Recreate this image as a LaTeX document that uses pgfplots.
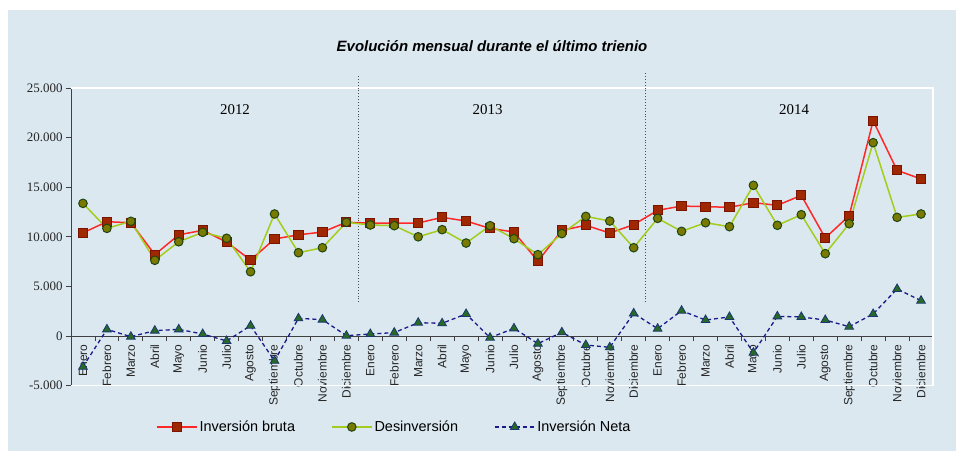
\documentclass[border=0pt]{standalone}
\usepackage{pgfplots}
\pgfplotsset{compat=1.18}
\usepackage{fontspec}
\setmainfont{Liberation Serif}
\setsansfont{Liberation Sans}
\definecolor{bg}{RGB}{219,232,240}
\definecolor{brutaline}{RGB}{255,40,40}
\definecolor{brutafill}{RGB}{160,40,0}
\definecolor{brutadraw}{RGB}{120,20,0}
\definecolor{desline}{RGB}{164,204,28}
\definecolor{desfill}{RGB}{122,122,0}
\definecolor{desdraw}{RGB}{30,70,20}
\definecolor{netaline}{RGB}{26,26,140}
\definecolor{netafill}{RGB}{40,105,40}
\definecolor{netadraw}{RGB}{25,55,110}
\pgfplotstableread{
x bruta desinv neta
0 10400 13370 -3100
1 11520 10850 670
2 11420 11560 -70
3 8200 7630 540
4 10200 9500 670
5 10650 10450 200
6 9470 9850 -500
7 7660 6480 1040
8 9780 12300 -2500
9 10200 8400 1780
10 10480 8900 1650
11 11460 11460 30
12 11390 11190 200
13 11390 11120 340
14 11390 10000 1340
15 11960 10720 1280
16 11590 9370 2220
17 10850 11120 -170
18 10480 9810 770
19 7530 8200 -770
20 10650 10320 370
21 11160 12060 -910
22 10380 11590 -1140
23 11220 8900 2280
24 12670 11860 740
25 13100 10550 2550
26 13040 11420 1610
27 12970 11020 1920
28 13440 15190 -1680
29 13170 11160 1980
30 14180 12230 1920
31 9880 8300 1610
32 12130 11320 940
33 21700 19490 2220
34 16700 11960 4740
35 15830 12300 3560
}\datatable
\begin{document}
\begin{tikzpicture}
\fill[white] (-71bp,-65.4bp) rectangle (885bp,385.6bp);
\fill[bg] (-63bp,-65.4bp) rectangle (885bp,375.6bp);
\begin{axis}[
  scale only axis, width=862bp, height=297.6bp,
  xmin=-0.5, xmax=35.5, ymin=-5000, ymax=25000,
  clip=false,
  axis x line*=middle, axis y line*=left,
  axis line style={black!75, line width=0.8pt},
  tick style={black!75, line width=0.8pt},
  tick align=outside,
  xtick={0,...,35},
  major x tick style={draw=none},
  minor xtick={-0.5,0.5,...,35.5},
  minor x tick style={draw=black!75, line width=0.8pt},
  minor tick length=5bp,
  major tick length=5bp,
  xticklabels={Enero,Febrero,Marzo,Abril,Mayo,Junio,Julio,Agosto,Septiembre,Octubre,Noviembre,Diciembre,
               Enero,Febrero,Marzo,Abril,Mayo,Junio,Julio,Agosto,Septiembre,Octubre,Noviembre,Diciembre,
               Enero,Febrero,Marzo,Abril,Mayo,Junio,Julio,Agosto,Septiembre,Octubre,Noviembre,Diciembre},
  xticklabel style={font=\sffamily\fontsize{12}{14}\selectfont, rotate=90, anchor=east, text=black!85},
  ytick={-5000,0,5000,10000,15000,20000,25000},
  scaled y ticks=false,
  yticklabel={\pgfmathprintnumber[fixed,precision=0,1000 sep={.},assume math mode=true]{\tick}},
  yticklabel style={font=\fontsize{13}{15}\selectfont, text=black!85},
  legend columns=3,
  legend style={draw=none, fill=none, at={(0.375,-0.139)}, anchor=center,
    font=\sffamily\fontsize{14.5}{17}\selectfont,
    /tikz/every even column/.append style={column sep=34bp}},
  legend image code/.code={\draw[mark repeat=2,mark phase=2] plot coordinates {(0bp,0bp) (20bp,0bp) (40bp,0bp)};},
]
\draw[white, line width=1.2pt] (rel axis cs:0,0) -- (rel axis cs:1,0) -- (rel axis cs:1,1) -- (rel axis cs:0,1);
\draw[black!70, dotted, line width=0.9pt] (axis cs:11.5,3400) -- (axis cs:11.5,26200);
\draw[black!70, dotted, line width=0.9pt] (axis cs:23.5,3400) -- (axis cs:23.5,26600);
\node[font=\fontsize{15}{18}\selectfont] at (axis cs:6.35,22800) {2012};
\node[font=\fontsize{15}{18}\selectfont] at (axis cs:16.9,22800) {2013};
\node[font=\fontsize{15}{18}\selectfont] at (axis cs:29.7,22800) {2014};
\addplot[brutaline, line width=1.5bp, mark=square*, mark size=4.6bp,
  mark options={fill=brutafill, draw=brutadraw, line width=1bp, solid}] table[x=x,y=bruta] {\datatable};
\addlegendentry{Inversión bruta}
\addplot[desline, line width=1.5bp, mark=*, mark size=4.3bp,
  mark options={fill=desfill, draw=desdraw, line width=1bp, solid}] table[x=x,y=desinv] {\datatable};
\addlegendentry{Desinversión}
\addplot[netaline, line width=1.3bp, dash pattern=on 4bp off 3bp, mark=triangle*, mark size=5bp,
  mark options={fill=netafill, draw=netadraw, line width=0.8bp, solid}] table[x=x,y=neta] {\datatable};
\addlegendentry{Inversión Neta}
\end{axis}
\node[font=\sffamily\bfseries\itshape\fontsize{15}{18}\selectfont] at (421bp,339.6bp) {Evolución mensual durante el último trienio};
\pgfresetboundingbox
\path[use as bounding box] (-71bp,-65.4bp) rectangle (885bp,385.6bp);
\end{tikzpicture}
\end{document}
